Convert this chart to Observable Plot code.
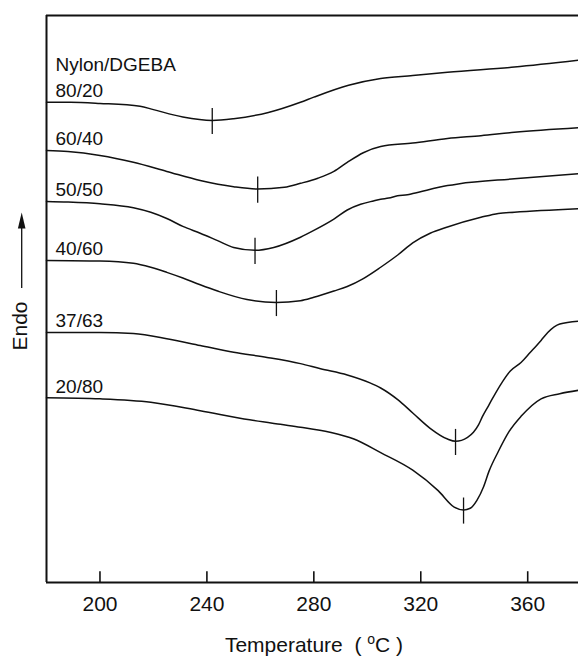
<!DOCTYPE html>
<html>
<head>
<meta charset="utf-8">
<script src="https://cdn.jsdelivr.net/npm/d3@7"></script>
<script src="https://cdn.jsdelivr.net/npm/@observablehq/plot@0.6"></script>
<style>
  html, body { margin: 0; padding: 0; background: #fff; }
  svg { display: block; }
</style>
</head>
<body>
<div id="chart"></div>
<script>
// DSC heating scans of Nylon/DGEBA blends.
// Each series: [temperature °C, heat flow (arbitrary units, endo up, curves offset)]
const blends = ["80/20", "60/40", "50/50", "40/60", "37/63", "20/80"];

const scan80_20 = [
  [180, 84.7], [189, 84.7], [200, 84.5], [215, 84.0], [220, 83.4], [231, 82.1],
  [242, 81.5], [250, 81.8], [263, 82.9], [275, 84.7], [280, 85.6], [293, 87.7],
  [305, 88.9], [317, 89.4], [330, 90.0], [355, 90.9], [379, 92.1]
];
const scan60_40 = [
  [180, 76.2], [188, 76.0], [200, 75.3], [212.5, 74.1], [225, 72.5], [237.5, 70.9],
  [250, 69.8], [259, 69.4], [269, 69.7], [275, 70.4], [281.5, 71.3], [287.5, 72.5],
  [292.5, 74.1], [298.5, 75.8], [305, 76.9], [317, 77.5], [330, 78.3], [342.5, 78.8],
  [355, 79.4], [379, 80.2]
];
const scan50_50 = [
  [180, 67.2], [188, 67.1], [200, 66.8], [212.5, 66.1], [219, 65.3], [225, 64.2],
  [231, 62.8], [237.5, 61.6], [244, 60.3], [250, 59.1], [258, 58.6], [265, 59.1],
  [275, 60.9], [280, 62.1], [287.5, 64.1], [292.5, 65.7], [297.5, 66.7], [302.3, 67.3],
  [305, 67.6], [308, 67.8], [311.3, 68.2], [315, 68.4], [317, 68.6], [330, 70.0],
  [334, 70.3], [355, 71.2], [379, 72.1]
];
const scan40_60 = [
  [180, 56.8], [200, 56.7], [212.5, 56.3], [219, 55.6], [225, 54.7], [231, 53.7],
  [237.5, 52.5], [244, 51.4], [255, 49.9], [266, 49.4], [275, 49.7], [280, 50.3],
  [287.5, 51.4], [292.5, 52.2], [298.5, 53.6], [305, 55.6], [311.5, 57.8], [317, 59.9],
  [323.5, 61.6], [330, 62.7], [342.5, 64.4], [349, 65.1], [355, 65.3], [379, 65.9]
];
const scan37_63 = [
  [180, 44.1], [200, 44.1], [212.5, 43.9], [225, 43.0], [237.5, 41.8], [250, 40.6],
  [262.5, 39.7], [275, 38.6], [282.5, 37.7], [292.5, 36.6], [301, 35.2], [305, 34.3],
  [311.5, 32.2], [317, 29.9], [323.5, 27.2], [330, 25.3], [333, 24.9], [337.5, 25.6],
  [339.7, 26.5], [341.6, 27.8], [343, 29.2], [345, 30.9], [347, 32.6], [350, 35.0],
  [353.5, 37.3], [357.5, 38.8], [361, 40.6], [365, 42.7], [367.5, 44.1], [372, 45.6],
  [379, 46.1]
];
const scan20_80 = [
  [180, 32.6], [200, 32.4], [219, 31.8], [237.5, 30.3], [256, 28.7], [267.5, 27.9],
  [275, 27.4], [286, 26.5], [295, 25.3], [305, 22.9], [317, 19.8], [326.5, 16.2],
  [332.5, 13.3], [336, 12.8], [338.5, 13.1], [341, 14.5], [343.5, 16.9], [345.5, 19.6],
  [349, 23.1], [353, 26.6], [357.5, 29.3], [365, 32.4], [372, 33.3], [379, 33.9]
];

// Melting peak temperatures (°C), one per blend
const peakTemps = [242, 259, 258, 266, 333, 336];

const xTicks = [200, 240, 280, 320, 360];
const xDomain = [180, 379];
const yDomain = [0, 100];

const scans = [scan80_20, scan60_40, scan50_50, scan40_60, scan37_63, scan20_80];

const rows = blends.flatMap((blend, i) =>
  scans[i].map(([T, v]) => ({blend, T, v}))
);
const starts = blends.map((blend, i) => ({blend, T: scans[i][0][0], v: scans[i][0][1]}));
const peaks = blends.map((blend, i) => {
  const p = scans[i].find(([T]) => T === peakTemps[i]);
  return {blend, T: p[0], v: p[1]};
});

const ink = "#111";
const font = "'Liberation Sans', Arial, Helvetica, sans-serif";

const chart = Plot.plot({
  width: 578,
  height: 657,
  marginLeft: 46,
  marginRight: 0,
  marginTop: 15,
  marginBottom: 75,
  style: {fontFamily: font, fontSize: "21px", background: "#fff", color: ink},
  x: {domain: xDomain},
  y: {domain: yDomain, axis: null},
  marks: [
    // frame: left, bottom and top lines
    Plot.ruleX([xDomain[0]], {stroke: ink, strokeWidth: 2}),
    Plot.ruleY([yDomain[0]], {stroke: ink, strokeWidth: 2}),
    Plot.ruleY([yDomain[1]], {stroke: ink, strokeWidth: 2}),
    // inward ticks on the temperature axis
    Plot.ruleX(xTicks, {y1: 0, y2: 1.9, stroke: ink, strokeWidth: 1.6}),
    Plot.axisX(xTicks, {tickSize: 0, tickPadding: 14, fontSize: 21, label: null}),
    // the scans
    Plot.line(rows, {x: "T", y: "v", z: "blend", curve: "monotone-x", stroke: ink, strokeWidth: 1.5}),
    // peak markers
    Plot.ruleX(peaks, {x: "T", y1: d => d.v - 2.5, y2: d => d.v + 2.1, stroke: ink, strokeWidth: 1.3}),
    // composition labels
    Plot.text(starts, {x: "T", y: "v", text: "blend", textAnchor: "start", lineAnchor: "bottom", dx: 9, dy: -5, fontSize: 19, fill: ink}),
    Plot.text(starts.slice(0, 1), {x: "T", y: "v", text: () => "Nylon/DGEBA", textAnchor: "start", lineAnchor: "bottom", dx: 9, dy: -31, fontSize: 19, fill: ink})
  ]
});

document.getElementById("chart").appendChild(chart);

const svg = d3.select(chart);

// "Endo" label with an upward arrow: direction of endotherm
svg.append("text")
  .attr("transform", "translate(27,326) rotate(-90)")
  .attr("text-anchor", "middle")
  .attr("font-family", font)
  .attr("font-size", 21)
  .attr("fill", ink)
  .text("Endo");
const ax = 21.7;
svg.append("line")
  .attr("x1", ax).attr("x2", ax)
  .attr("y1", 288).attr("y2", 226)
  .attr("stroke", ink).attr("stroke-width", 1.3);
svg.append("path")
  .attr("d", `M${ax},212.5 L${ax - 3.8},228.5 L${ax + 3.8},228.5 Z`)
  .attr("fill", ink);

// temperature axis title with superscript degree
const title = svg.append("text")
  .attr("x", 314)
  .attr("y", 652)
  .attr("text-anchor", "middle")
  .attr("font-family", font)
  .attr("font-size", 21)
  .attr("fill", ink)
  .style("white-space", "pre");
title.append("tspan").text("Temperature  ( ");
title.append("tspan").attr("font-size", 14).attr("dy", -8).text("o");
title.append("tspan").attr("dy", 8).text("C )");
</script>
</body>
</html>
